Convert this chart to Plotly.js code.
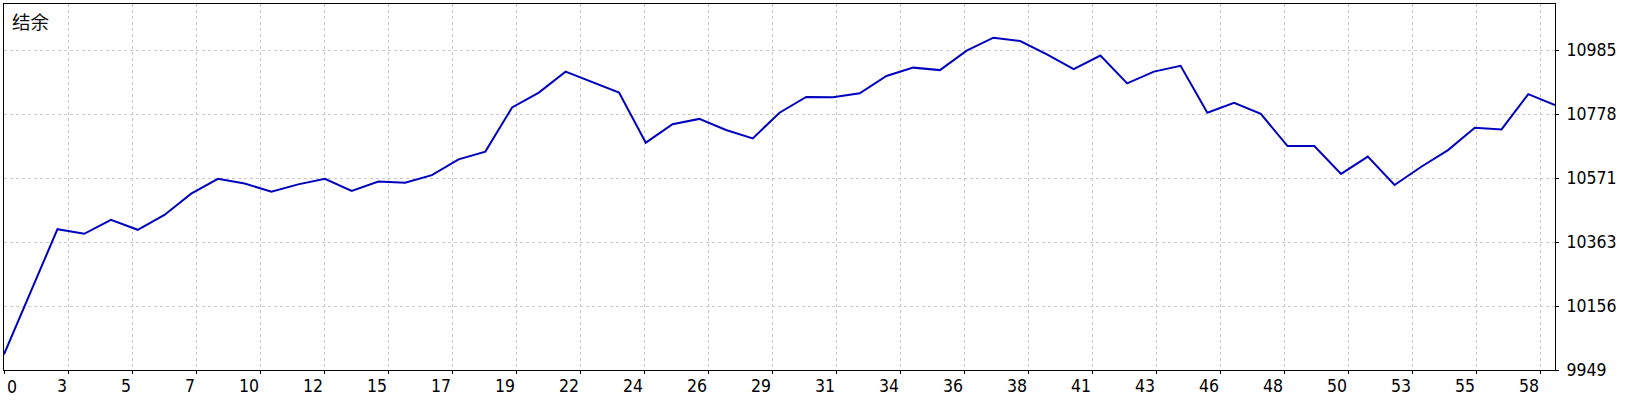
<!DOCTYPE html>
<html>
<head>
<meta charset="utf-8">
<script src="https://cdn.plot.ly/plotly-3.0.1.min.js"></script>
<style>html,body{margin:0;padding:0;background:#fff;}#chart{width:1640px;height:400px;}</style>
</head>
<body>
<div id="chart"></div>
<script>
const chartTitle = '结余';
const balance = [
  10000, 10203, 10405, 10390, 10435, 10403, 10451, 10520, 10568, 10553,
  10526, 10550, 10568, 10529, 10559, 10555, 10580, 10631, 10656, 10799,
  10847, 10915, 10880, 10847, 10685, 10745, 10762, 10726, 10699, 10782,
  10833, 10832, 10845, 10901, 10928, 10920, 10983, 11025, 11014, 10971,
  10923, 10967, 10877, 10915, 10934, 10782, 10814, 10778, 10674, 10674,
  10584, 10640, 10548, 10607, 10661, 10733, 10728, 10842, 10807
];
const xTickLabels = ['0','3','5','7','10','12','15','17','19','22','24','26','29','31','34','36','38','41','43','46','48','50','53','55','58'];
const yTickLabels = ['9949','10156','10363','10571','10778','10985'];

const xIdx = balance.map((_, i) => i);
const xMax = balance.length - 1;
const xStep = 2.3933;
const xTickVals = xTickLabels.map((_, k) => k * xStep);
const yMin = 9949, yStep = 207.2, yMax = 11134;
const yTickVals = yTickLabels.map((_, k) => yMin + k * yStep);

const tickFont = {family: "'DejaVu Sans Condensed', 'Liberation Sans', sans-serif", size: 17.5, color: '#000'};

const data = [{
  x: xIdx, y: balance, type: 'scatter', mode: 'lines',
  line: {color: 'rgb(0,0,190)', width: 2},
  hoverinfo: 'none'
}];

const layout = {
  width: 1640, height: 400,
  margin: {l: 4, r: 85, t: 4, b: 30, pad: 0},
  paper_bgcolor: '#fff', plot_bgcolor: '#fff',
  showlegend: false,
  xaxis: {
    range: [0, xMax], tickmode: 'array', tickvals: xTickVals,
    ticktext: xTickLabels.map((t, k) => k === 0 ? '' : t),
    ticks: 'outside', ticklen: 3, tickcolor: '#000', tickwidth: 1,
    ticklabelposition: 'outside left',
    showline: true, mirror: true, linecolor: '#000', linewidth: 1,
    showgrid: true, gridcolor: '#c8c8c8', griddash: '3px,3px', gridwidth: 1,
    zeroline: false, tickfont: tickFont, fixedrange: true
  },
  yaxis: {
    range: [yMin, yMax], side: 'right', tickmode: 'array', tickvals: yTickVals, ticktext: yTickLabels,
    ticks: 'outside', ticklen: 3, tickcolor: '#000', tickwidth: 1,
    showline: true, mirror: true, linecolor: '#000', linewidth: 1,
    showgrid: true, gridcolor: '#c8c8c8', griddash: '3px,3px', gridwidth: 1,
    zeroline: false, tickfont: tickFont, fixedrange: true, ticklabelstandoff: 4
  },
  annotations: [
    {text: chartTitle, xref: 'paper', yref: 'paper', x: 0.004, y: 0.995, xanchor: 'left', yanchor: 'top',
     showarrow: false, font: {family: "'Noto Sans CJK SC', sans-serif", size: 18.5, color: '#111'}},
    {text: xTickLabels[0], xref: 'x', yref: 'paper', x: xTickVals[0], y: 0, xanchor: 'left', yanchor: 'top',
     xshift: 1, yshift: -5, showarrow: false, font: tickFont}
  ]
};

Plotly.newPlot('chart', data, layout, {displayModeBar: false, staticPlot: true});
</script>
</body>
</html>
